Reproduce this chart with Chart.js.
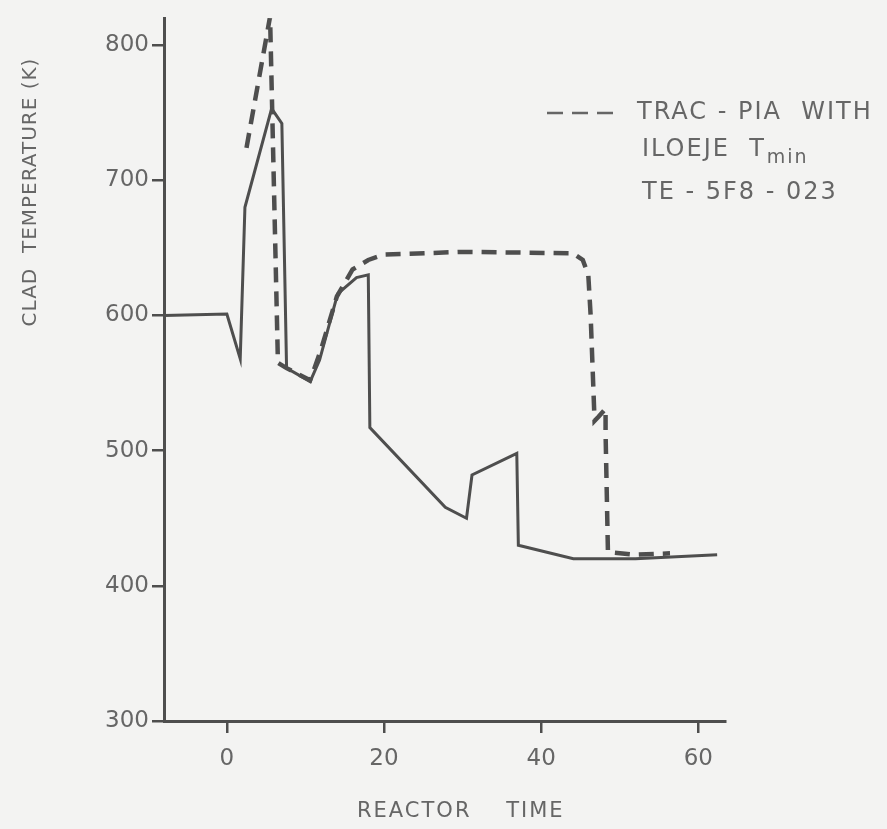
<!DOCTYPE html>
<html>
<head>
<meta charset="utf-8">
<script src="https://cdn.jsdelivr.net/npm/chart.js@4/dist/chart.umd.min.js"></script>
<style>
  html, body { margin: 0; padding: 0; background: #f3f3f2; }
  #wrap { width: 887px; height: 829px; }
</style>
</head>
<body>
<div id="wrap"><canvas id="clad" width="887" height="829"></canvas></div>
<script>
const measTime = [-8, 0.0, 1.7, 2.3, 5.7, 7.0, 7.6, 10.6, 11.8, 14.1, 16.5, 18.0, 18.2, 27.8, 30.5, 31.2, 36.9, 37.1, 44.1, 52, 62.4];
const measTemp = [600, 601, 568, 680, 753, 742, 561, 551, 567, 616, 628, 630, 517, 458, 450, 482, 498, 430, 420, 420, 423];

const tracTime = [2.5, 5.5, 6.5, 7.6, 10.6, 12.0, 14.0, 16.0, 18.0, 20.0, 30.0, 44.0, 45.3, 46.0, 46.3, 46.8, 47.3, 48.2, 48.2, 48.5, 52.0, 56.4];
const tracTemp = [724, 821, 565, 561, 552, 575, 614, 634, 641, 645, 647, 646, 641, 630, 600, 522, 525, 531, 513, 425, 423, 424];

const xTicks = [0, 20, 40, 60];
const yTicks = [300, 400, 500, 600, 700, 800];

const INK = '#4e4e4e';
const TXT = '#666666';

const toPts = (xs, ys) => xs.map((x, i) => ({ x: x, y: ys[i] }));

// titles + legend drawn by hand, they sit off-centre in the original
const annotate = {
  id: 'annotate',
  afterDraw(chart) {
    const ctx = chart.ctx;
    ctx.save();
    ctx.fillStyle = TXT;
    ctx.textBaseline = 'middle';

    // y title
    ctx.save();
    ctx.letterSpacing = '1px';
    ctx.translate(31, 192);
    ctx.rotate(-Math.PI / 2);
    ctx.textAlign = 'center';
    ctx.font = '20px "DejaVu Sans"';
    ctx.fillText('CLAD  TEMPERATURE (K)', 0, 0);
    ctx.restore();

    // x title
    ctx.letterSpacing = '2px';
    ctx.textAlign = 'left';
    ctx.font = '21px "DejaVu Sans"';
    ctx.fillText('REACTOR    TIME', 357, 812);

    // legend
    ctx.font = '24px "DejaVu Sans"';
    ctx.fillText('TRAC - PIA  WITH', 637, 113);
    ctx.fillText('ILOEJE  T', 642, 150);
    const w = ctx.measureText('ILOEJE  T').width;
    ctx.font = '19px "DejaVu Sans"';
    ctx.fillText('min', 642 + w + 1, 158);
    ctx.font = '24px "DejaVu Sans"';
    ctx.fillText('TE - 5F8 - 023', 642, 193);

    ctx.strokeStyle = TXT;
    ctx.lineWidth = 2.5;
    ctx.setLineDash([16, 9]);
    ctx.beginPath();
    ctx.moveTo(547, 113);
    ctx.lineTo(622, 113);
    ctx.stroke();
    ctx.restore();
  }
};

new Chart(document.getElementById('clad'), {
  type: 'scatter',
  data: {
    datasets: [
      {
        label: 'TE-5F8-023',
        data: toPts(measTime, measTemp),
        showLine: true,
        borderColor: INK,
        borderWidth: 3,
        pointRadius: 0,
        tension: 0
      },
      {
        label: 'TRAC-PIA WITH ILOEJE Tmin',
        data: toPts(tracTime, tracTemp),
        showLine: true,
        borderColor: INK,
        borderWidth: 4.5,
        borderDash: [15, 9],
        pointRadius: 0,
        tension: 0
      }
    ]
  },
  options: {
    responsive: false,
    animation: false,
    layout: { padding: { left: 0, right: 162, top: 18, bottom: 0 } },
    plugins: {
      legend: { display: false },
      tooltip: { enabled: false }
    },
    scales: {
      x: {
        type: 'linear',
        min: -8,
        max: 63.4,
        afterFit(scale) { scale.height = 108; },
        afterBuildTicks(scale) { scale.ticks = xTicks.map(v => ({ value: v })); },
        border: { display: true, color: INK, width: 3 },
        grid: { drawOnChartArea: false, drawTicks: true, tickLength: 12, color: INK, lineWidth: 2.5 },
        ticks: { color: TXT, padding: 12, font: { family: 'DejaVu Sans', size: 23 } }
      },
      y: {
        type: 'linear',
        min: 300,
        max: 820,
        afterFit(scale) { scale.width = 164; },
        afterBuildTicks(scale) { scale.ticks = yTicks.map(v => ({ value: v })); },
        border: { display: true, color: INK, width: 3 },
        grid: { drawOnChartArea: false, drawTicks: true, tickLength: 12, color: INK, lineWidth: 2.5 },
        ticks: { color: TXT, padding: 3, font: { family: 'DejaVu Sans', size: 23 } }
      }
    }
  },
  plugins: [annotate]
});
</script>
</body>
</html>
